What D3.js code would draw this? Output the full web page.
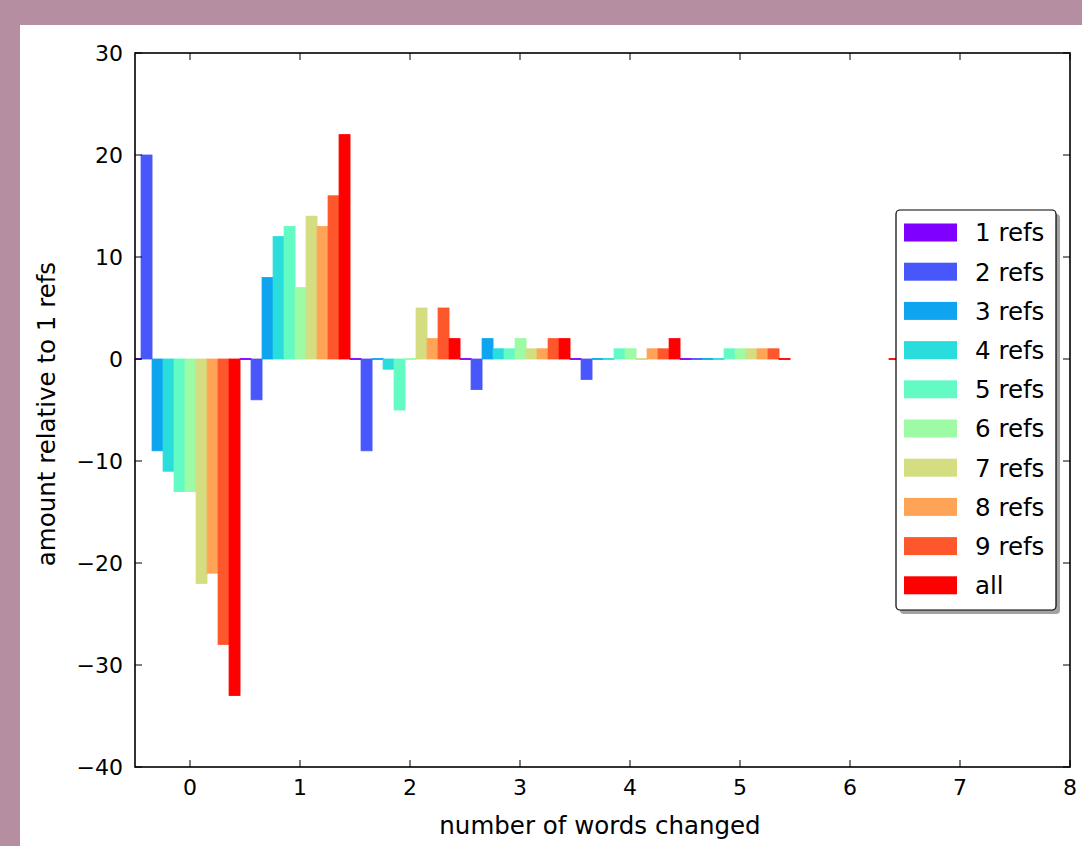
<!DOCTYPE html>
<html>
<head>
<meta charset="utf-8">
<script src="https://cdn.jsdelivr.net/npm/d3@7"></script>
<style>
  body { margin: 0; background: #b58ea2; }
  svg { display: block; }
  text { font-family: "DejaVu Sans", sans-serif; fill: #000; }
</style>
</head>
<body>
<div id="chart"></div>
<script>
// number of words changed (group positions)
const groups = [0, 1, 2, 3, 4, 5, 6, 7];
const seriesNames = ["1 refs", "2 refs", "3 refs", "4 refs", "5 refs", "6 refs", "7 refs", "8 refs", "9 refs", "all"];
const seriesColors = ["#8000ff", "#4757fb", "#0ea4f0", "#2adddd", "#63fbc3", "#9cfba4", "#d4dd80", "#ffa457", "#ff572c", "#ff0000"];

// amount relative to 1 refs, one array per series (index = group)
const refs1 = [0, 0, 0, 0, 0, 0];
const refs2 = [20, -4, -9, -3, -2, 0];
const refs3 = [-9, 8, 0, 2, 0, 0];
const refs4 = [-11, 12, -1, 1, 0, 0];
const refs5 = [-13, 13, -5, 1, 1, 1];
const refs6 = [-13, 7, 0, 2, 1, 1];
const refs7 = [-22, 14, 5, 1, 0, 1];
const refs8 = [-21, 13, 2, 1, 1, 1];
const refs9 = [-28, 16, 5, 2, 1, 1];
const refsAll = [-33, 22, 2, 2, 2, 0, 0, 0];

const seriesValues = [refs1, refs2, refs3, refs4, refs5, refs6, refs7, refs8, refs9, refsAll];

const xTicks = [0, 1, 2, 3, 4, 5, 6, 7, 8];
const yTicks = [-40, -30, -20, -10, 0, 10, 20, 30];

const width = 1082, height = 846;
const margin = { left: 135, top: 53, right: 1070, bottom: 767 };
const barWidth = 0.1;
const barOffset = -0.545;

const svg = d3.select("#chart").append("svg")
  .attr("width", width)
  .attr("height", height);

// white figure panel on the mauve page
svg.append("rect")
  .attr("x", 20).attr("y", 25)
  .attr("width", width - 20).attr("height", height - 25)
  .attr("fill", "#fff");

const x = d3.scaleLinear().domain([-0.5, 8]).range([margin.left, margin.right]);
const y = d3.scaleLinear().domain([-40, 30]).range([margin.bottom, margin.top]);

svg.append("clipPath").attr("id", "plot-clip")
  .append("rect")
  .attr("x", margin.left).attr("y", margin.top)
  .attr("width", margin.right - margin.left)
  .attr("height", margin.bottom - margin.top);

// flatten to bar records
const bars = [];
seriesValues.forEach((vals, i) => {
  vals.forEach((v, k) => {
    bars.push({ series: i, group: groups[k], value: v });
  });
});

// zero-height bars still show their edge as a thin line
const minH = 1.2;
svg.append("g")
  .attr("clip-path", "url(#plot-clip)")
  .selectAll("rect")
  .data(bars)
  .join("rect")
  .attr("x", d => x(d.group + barOffset + d.series * barWidth))
  .attr("width", d => x(d.group + barOffset + (d.series + 1) * barWidth) - x(d.group + barOffset + d.series * barWidth))
  .attr("y", d => {
    const h = Math.abs(y(d.value) - y(0));
    return h < minH ? y(0) - minH / 2 : y(Math.max(0, d.value));
  })
  .attr("height", d => Math.max(minH, Math.abs(y(d.value) - y(0))))
  .attr("fill", d => seriesColors[d.series])
  .attr("stroke", d => seriesColors[d.series])
  .attr("stroke-width", 0.8);

// ticks on all four sides, pointing inward
const tickLen = 7;
const ticks = svg.append("g").attr("stroke", "#000").attr("stroke-width", 1);
xTicks.forEach(t => {
  ticks.append("line").attr("x1", x(t)).attr("x2", x(t)).attr("y1", margin.bottom).attr("y2", margin.bottom - tickLen);
  ticks.append("line").attr("x1", x(t)).attr("x2", x(t)).attr("y1", margin.top).attr("y2", margin.top + tickLen);
});
yTicks.forEach(t => {
  ticks.append("line").attr("x1", margin.left).attr("x2", margin.left + tickLen).attr("y1", y(t)).attr("y2", y(t));
  ticks.append("line").attr("x1", margin.right).attr("x2", margin.right - tickLen).attr("y1", y(t)).attr("y2", y(t));
});

// frame
svg.append("rect")
  .attr("x", margin.left).attr("y", margin.top)
  .attr("width", margin.right - margin.left)
  .attr("height", margin.bottom - margin.top)
  .attr("fill", "none")
  .attr("stroke", "#000")
  .attr("stroke-width", 1.6);

// tick labels
const fmt = v => (v < 0 ? "\u2212" + Math.abs(v) : String(v));
svg.append("g").selectAll("text")
  .data(xTicks)
  .join("text")
  .attr("x", d => x(d))
  .attr("y", 795)
  .attr("text-anchor", "middle")
  .style("font-size", "22px")
  .text(fmt);

svg.append("g").selectAll("text")
  .data(yTicks)
  .join("text")
  .attr("x", 123)
  .attr("y", d => y(d))
  .attr("dy", "0.36em")
  .attr("text-anchor", "end")
  .style("font-size", "22px")
  .text(fmt);

// axis labels
svg.append("text")
  .attr("x", 600)
  .attr("y", 834)
  .attr("text-anchor", "middle")
  .style("font-size", "24.5px")
  .text("number of words changed");

svg.append("text")
  .attr("transform", `translate(46, 414) rotate(-90)`)
  .attr("dy", "0.35em")
  .attr("text-anchor", "middle")
  .style("font-size", "24.5px")
  .text("amount relative to 1 refs");

// legend
const lg = { x: 896, y: 210, w: 160, h: 400, rowH: 39.2 };
const legend = svg.append("g");
legend.append("rect")
  .attr("x", lg.x + 4).attr("y", lg.y + 4)
  .attr("width", lg.w).attr("height", lg.h)
  .attr("rx", 4)
  .attr("fill", "#555").attr("opacity", 0.55);
legend.append("rect")
  .attr("x", lg.x).attr("y", lg.y)
  .attr("width", lg.w).attr("height", lg.h)
  .attr("rx", 4)
  .attr("fill", "#fff").attr("stroke", "#000").attr("stroke-width", 1.2);

const items = legend.selectAll("g.item")
  .data(seriesNames)
  .join("g")
  .attr("class", "item")
  .attr("transform", (d, i) => `translate(${lg.x}, ${lg.y + 22.5 + i * lg.rowH})`);

items.append("rect")
  .attr("x", 8).attr("y", -9)
  .attr("width", 53).attr("height", 18)
  .attr("fill", (d, i) => seriesColors[i]);

items.append("text")
  .attr("x", 79)
  .attr("dy", "0.36em")
  .style("font-size", "24.5px")
  .text(d => d);
</script>
</body>
</html>
